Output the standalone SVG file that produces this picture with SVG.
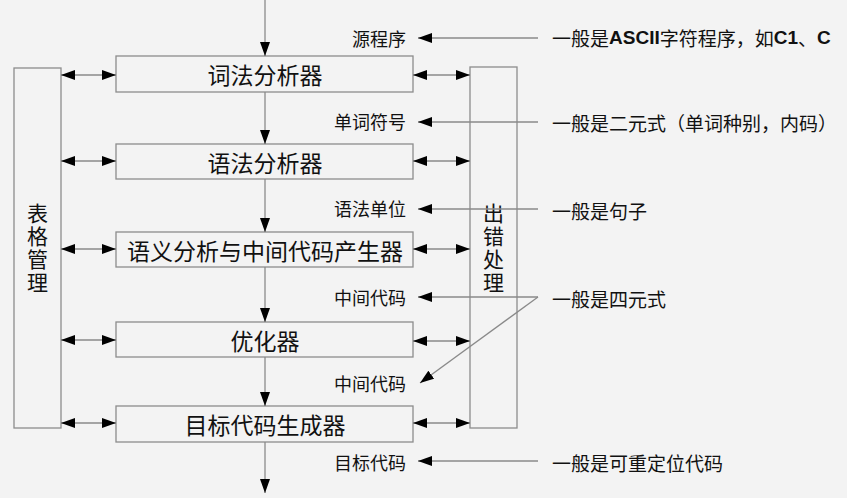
<svg xmlns="http://www.w3.org/2000/svg" width="847" height="498" viewBox="0 0 847 498">
<style>
.box{fill:none;stroke:#8c8c8c;stroke-width:1.3}
.ln{fill:none;stroke:#8a8a8a;stroke-width:1.3}
.t{font-family:"Noto Sans CJK SC","Liberation Sans",sans-serif;fill:#111;dominant-baseline:central}
.big{font-size:23px;text-anchor:middle}
.lab{font-size:18px;text-anchor:end}
.note{font-size:19px}
.v{font-size:21px;text-anchor:middle;writing-mode:vertical-rl;letter-spacing:2px}
.b{font-family:"Liberation Sans",Arial,sans-serif;font-weight:bold}
</style>
<defs>
<marker id="ah" viewBox="0 0 14 10" refX="14" refY="5" markerWidth="14" markerHeight="10" markerUnits="userSpaceOnUse" orient="auto-start-reverse">
<path d="M0,0 L14,5 L0,10 Z" fill="#000"/>
</marker>
</defs>
<rect width="847" height="498" fill="#f3f3f3"/>

<g id="node-table">
<rect class="box" x="14" y="68" width="47" height="360"/>
<text class="t v" x="37.5" y="248.5">表格管理</text>
</g>
<g id="node-error">
<rect class="box" x="470" y="67" width="47" height="361"/>
<text class="t v" x="493.5" y="248.5">出错处理</text>
</g>
<g id="node-lexer">
<rect class="box" x="116" y="56" width="297" height="36"/>
<text class="t big" x="265" y="74">词法分析器</text>
</g>
<g id="node-parser">
<rect class="box" x="116" y="144" width="297" height="35"/>
<text class="t big" x="265" y="161.5">语法分析器</text>
</g>
<g id="node-semantic">
<rect class="box" x="116" y="232" width="297" height="35"/>
<text class="t big" x="265" y="249.5">语义分析与中间代码产生器</text>
</g>
<g id="node-optimizer">
<rect class="box" x="116" y="322" width="297" height="35"/>
<text class="t big" x="265" y="339.5">优化器</text>
</g>
<g id="node-codegen">
<rect class="box" x="116" y="406" width="297" height="36"/>
<text class="t big" x="265" y="424">目标代码生成器</text>
</g>

<g id="connectors">
<line class="ln" x1="265" y1="0" x2="265" y2="56" marker-end="url(#ah)"/>
<line class="ln" x1="265" y1="92" x2="265" y2="144" marker-end="url(#ah)"/>
<line class="ln" x1="265" y1="179" x2="265" y2="232" marker-end="url(#ah)"/>
<line class="ln" x1="265" y1="267" x2="265" y2="322" marker-end="url(#ah)"/>
<line class="ln" x1="265" y1="357" x2="265" y2="406" marker-end="url(#ah)"/>
<line class="ln" x1="265" y1="442" x2="265" y2="493" marker-end="url(#ah)"/>

<line class="ln" x1="61" y1="75" x2="116" y2="75" marker-start="url(#ah)" marker-end="url(#ah)"/>
<line class="ln" x1="61" y1="161" x2="116" y2="161" marker-start="url(#ah)" marker-end="url(#ah)"/>
<line class="ln" x1="61" y1="249" x2="116" y2="249" marker-start="url(#ah)" marker-end="url(#ah)"/>
<line class="ln" x1="61" y1="340" x2="116" y2="340" marker-start="url(#ah)" marker-end="url(#ah)"/>
<line class="ln" x1="61" y1="423" x2="116" y2="423" marker-start="url(#ah)" marker-end="url(#ah)"/>

<line class="ln" x1="413" y1="75" x2="470" y2="75" marker-start="url(#ah)" marker-end="url(#ah)"/>
<line class="ln" x1="413" y1="161" x2="470" y2="161" marker-start="url(#ah)" marker-end="url(#ah)"/>
<line class="ln" x1="413" y1="249" x2="470" y2="249" marker-start="url(#ah)" marker-end="url(#ah)"/>
<line class="ln" x1="413" y1="341" x2="470" y2="341" marker-start="url(#ah)" marker-end="url(#ah)"/>
<line class="ln" x1="413" y1="423" x2="470" y2="423" marker-start="url(#ah)" marker-end="url(#ah)"/>

<line class="ln" x1="538" y1="38" x2="418" y2="38" marker-end="url(#ah)"/>
<line class="ln" x1="538" y1="122" x2="418" y2="122" marker-end="url(#ah)"/>
<line class="ln" x1="538" y1="209" x2="418" y2="209" marker-end="url(#ah)"/>
<line class="ln" x1="538" y1="297" x2="418" y2="297" marker-end="url(#ah)"/>
<line class="ln" x1="538" y1="297" x2="420" y2="383" marker-end="url(#ah)"/>
<line class="ln" x1="538" y1="461" x2="418" y2="461" marker-end="url(#ah)"/>
</g>

<g id="labels">
<text class="t lab" x="406" y="38">源程序</text>
<text class="t lab" x="406" y="121">单词符号</text>
<text class="t lab" x="406" y="208">语法单位</text>
<text class="t lab" x="406" y="297">中间代码</text>
<text class="t lab" x="406" y="383">中间代码</text>
<text class="t lab" x="406" y="462">目标代码</text>
</g>
<g id="notes">
<text class="t note" x="552" y="37">一般是<tspan class="b">ASCII</tspan>字符程序，如<tspan class="b">C1</tspan>、<tspan class="b">C</tspan></text>
<text class="t note" x="552" y="122">一般是二元式（单词种别，内码）</text>
<text class="t note" x="552" y="210">一般是句子</text>
<text class="t note" x="552" y="298">一般是四元式</text>
<text class="t note" x="552" y="462">一般是可重定位代码</text>
</g>
</svg>
